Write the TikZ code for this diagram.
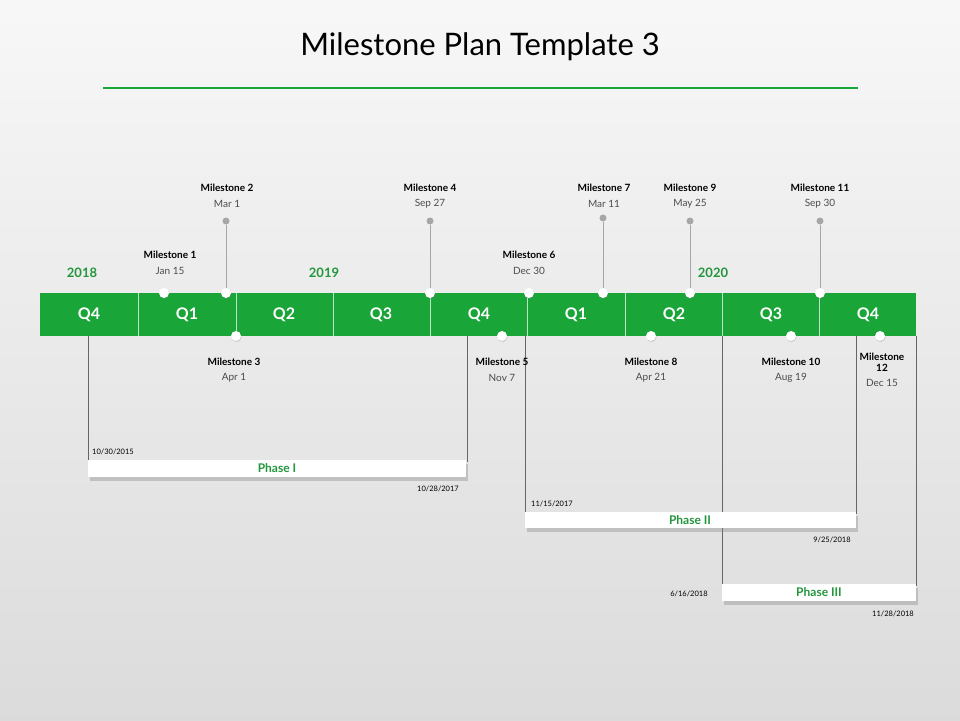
\documentclass[tikz,border=0pt]{standalone}
\usepackage{fontspec}
\setmainfont{Lato}
\usetikzlibrary{shadows}
\definecolor{gr}{RGB}{25,165,55}
\definecolor{grt}{RGB}{35,150,60}
\begin{document}
\begin{tikzpicture}[x=1pt,y=-1pt,
  ms/.style={font=\fontsize{10}{11}\selectfont\bfseries,align=center},
  dt/.style={font=\fontsize{10}{11}\selectfont,text=black!70},
  qd/.style={font=\fontsize{16}{17}\selectfont\bfseries,text=white},
  yr/.style={font=\fontsize{13}{14}\selectfont\bfseries,text=grt},
  wd/.style={circle,fill=white,inner sep=0pt,minimum size=10pt,drop shadow={opacity=0.3,shadow xshift=0.5pt,shadow yshift=-1pt}},
  gd/.style={circle,fill=black!35,inner sep=0pt,minimum size=7pt},
  stem/.style={draw=black!35,line width=0.8pt},
  pl/.style={draw=black!60,line width=0.5pt},
  ph/.style={fill=white,draw=none,drop shadow={opacity=0.35,shadow xshift=2pt,shadow yshift=-4pt}},
  pt/.style={font=\fontsize{12}{13}\selectfont\bfseries,text=grt},
  pd/.style={font=\fontsize{7.5}{8}\selectfont}]
\shade[top color=white!97!black,bottom color=black!14] (0,0) rectangle (960,720);
\useasboundingbox (0,0) rectangle (960,720);
\node[font=\fontsize{31}{36}\selectfont] (title) at (480,47) {Milestone Plan Template 3};
\draw[gr,line width=2.5pt] (103,88) coordinate (ta) -- (858,88) coordinate (tb);
% phase lines
\draw[pl] (88,336) -- (88,470); \draw[pl] (467,336) -- (467,462);
\draw[pl] (525,336) -- (525,514); \draw[pl] (856,336) -- (856,514);
\draw[pl] (722,336) -- (722,586); \draw[pl] (916,336) -- (916,586);
% bar
\fill[gr] (40,293) rectangle (916,336);
\foreach \x in {138,236,333,430,527,625,722,819} \draw[white!70!gr,line width=0.5pt] (\x,293) -- (\x,336);
\foreach \x/\t [count=\i] in {89/Q4,187/Q1,284/Q2,381/Q3,479/Q4,576/Q1,674/Q2,771/Q3,868/Q4}
  \node[qd] (q\i) at (\x,315) {\t};
\node[yr] (y1) at (82,273) {2018};
\node[yr] (y2) at (324,273) {2019};
\node[yr] (y3) at (713,273) {2020};
% stems
\foreach \x/\y/\n in {226/221/2,430/221/4,603/218/7,690/221/9,820/221/11}{
  \node[gd] (g\n) at (\x,\y) {};
  \draw[stem] (g\n) -- (\x,293);
}
\foreach \x/\y/\n in {164/293/1,226/293/2,236/336/3,430/293/4,502/336/5,529/293/6,603/293/7,651/336/8,690/293/9,791/336/10,820/293/11,880/336/12}
  \node[wd] (d\n) at (\x,\y) {};
\foreach \x/\y/\n/\d in {170/255/1/Jan 15,227/188/2/Mar 1,234/362/3/Apr 1,430/188/4/Sep 27,502/362/5/Nov 7,529/255/6/Dec 30,604/188/7/Mar 11,651/362/8/Apr 21,690/188/9/May 25,791/362/10/Aug 19,820/188/11/Sep 30}{
  \node[ms] (m\n) at (\x,\y) {Milestone \n};
  \node[dt] (t\n) at (\x,\y+16) {\d};
}
\node[ms] (m12) at (882,362) {Milestone\\12};
\node[dt] (t12) at (882,383) {Dec 15};
% phases
\fill[ph] (88,460) rectangle (466,477);
\node[pt] (p1) at (277,468.5) {Phase I};
\node[pd] (a1) at (113,452) {10/30/2015};
\node[pd] (b1) at (438,489) {10/28/2017};
\fill[ph] (525,512) rectangle (856,528);
\node[pt] (p2) at (690,520) {Phase II};
\node[pd] (a2) at (552,504) {11/15/2017};
\node[pd] (b2) at (832,540) {9/25/2018};
\fill[ph] (722,584) rectangle (916,601);
\node[pt] (p3) at (819,592.5) {Phase III};
\node[pd] (a3) at (689,594) {6/16/2018};
\node[pd] (b3) at (893,614) {11/28/2018};
\end{tikzpicture}
\end{document}
